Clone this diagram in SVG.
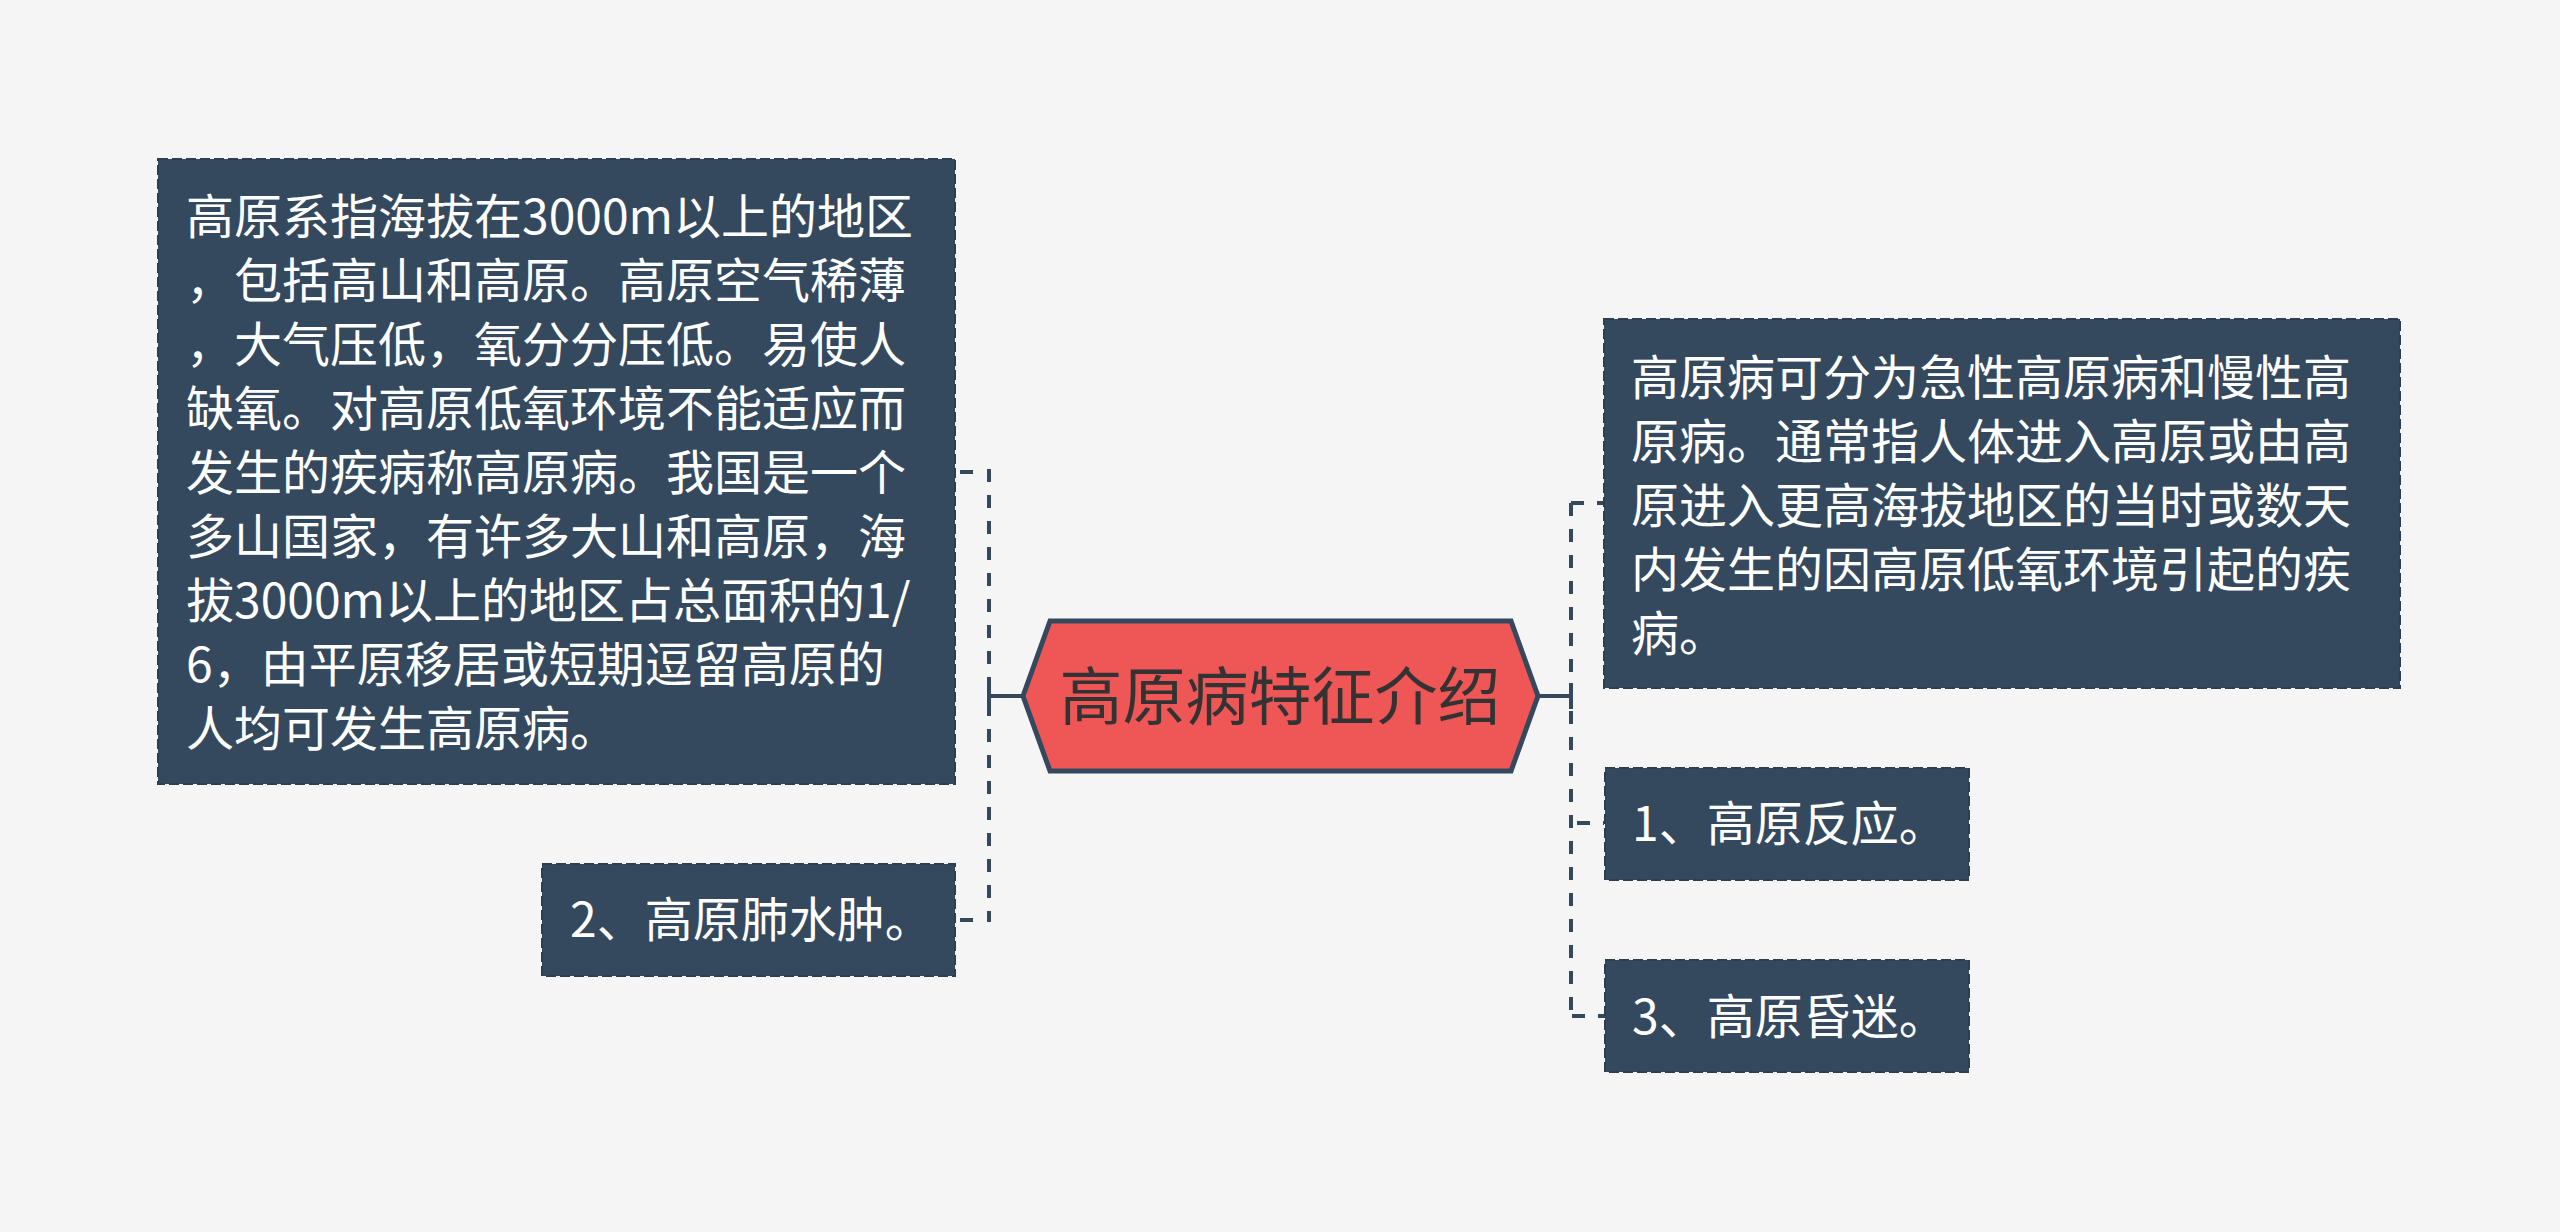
<svg xmlns="http://www.w3.org/2000/svg" width="2560" height="1232" viewBox="0 0 2560 1232">
<style>
.box{fill:#34495e;stroke:#2c3e50;stroke-width:2;stroke-dasharray:10 4}
.t{font-family:"Microsoft YaHei","Noto Sans CJK SC","Noto Sans",sans-serif;font-size:48px;fill:#ffffff}
.title{font-family:"Microsoft YaHei","Noto Sans CJK SC","Noto Sans",sans-serif;font-size:63px;fill:#333333}
.solid{stroke:#34495e;stroke-width:4;fill:none}
.dash{stroke:#34495e;stroke-width:4;fill:none;stroke-dasharray:13 13}
</style>
<rect width="2560" height="1232" fill="#f5f5f5"/>
<g id="connectors">
<path class="solid" d="M1023 696H989M989 683V709"/>
<path class="dash" d="M989 469V922"/>
<path class="solid" d="M960 472H973M960 920H973"/>
<path class="solid" d="M1538 696H1571M1571 683V709"/>
<path class="dash" d="M1571 503V1016"/>
<path class="dash" d="M1571 503H1604"/>
<path class="dash" d="M1577 823H1604"/>
<path class="dash" d="M1572 1016H1605"/>
</g>
<g id="center">
<polygon points="1023,696 1050,621 1511,621 1538,696 1511,771 1050,771" fill="#ef5656" stroke="#34495e" stroke-width="5"/>
<text class="title" x="1280" y="719" text-anchor="middle">高原病特征介绍</text>
</g>
<g id="left-desc">
<rect class="box" x="158" y="159" width="797" height="625"/>
<text class="t" x="186" y="234">高原系指海拔在3000m以上的地区</text>
<text class="t" x="186" y="298">，包括高山和高原。高原空气稀薄</text>
<text class="t" x="186" y="362">，大气压低，氧分分压低。易使人</text>
<text class="t" x="186" y="426">缺氧。对高原低氧环境不能适应而</text>
<text class="t" x="186" y="490">发生的疾病称高原病。我国是一个</text>
<text class="t" x="186" y="554">多山国家，有许多大山和高原，海</text>
<text class="t" x="186" y="618">拔3000m以上的地区占总面积的1/</text>
<text class="t" x="186" y="682">6，由平原移居或短期逗留高原的</text>
<text class="t" x="186" y="746">人均可发生高原病。</text>
</g>
<g id="left-2">
<rect class="box" x="542" y="864" width="413" height="112"/>
<text class="t" x="570" y="937">2、高原肺水肿。</text>
</g>
<g id="right-desc">
<rect class="box" x="1604" y="319" width="796" height="369"/>
<text class="t" x="1631" y="395">高原病可分为急性高原病和慢性高</text>
<text class="t" x="1631" y="459">原病。通常指人体进入高原或由高</text>
<text class="t" x="1631" y="523">原进入更高海拔地区的当时或数天</text>
<text class="t" x="1631" y="587">内发生的因高原低氧环境引起的疾</text>
<text class="t" x="1631" y="651">病。</text>
</g>
<g id="right-1">
<rect class="box" x="1605" y="768" width="364" height="112"/>
<text class="t" x="1632" y="841">1、高原反应。</text>
</g>
<g id="right-3">
<rect class="box" x="1605" y="960" width="364" height="112"/>
<text class="t" x="1632" y="1034">3、高原昏迷。</text>
</g>
</svg>
